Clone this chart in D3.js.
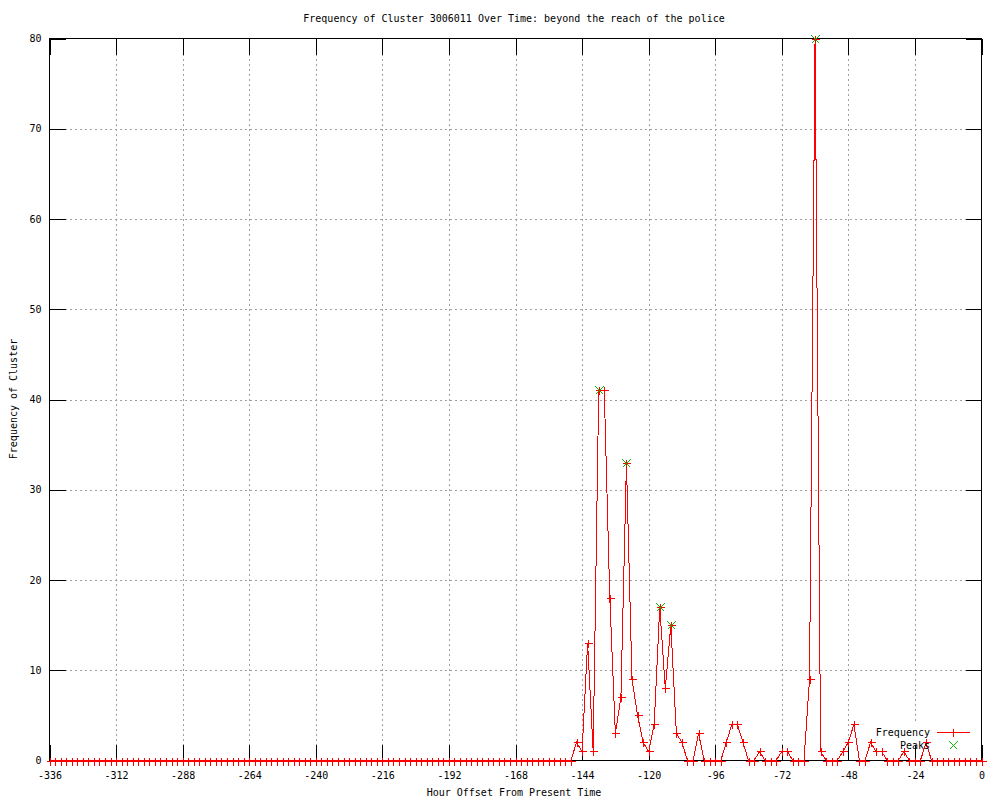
<!DOCTYPE html>
<html lang="en">
<head>
  <meta charset="UTF-8">
  <title>Frequency of Cluster 3006011 Over Time</title>
  <script src="https://d3js.org/d3.v7.min.js"></script>
  <style>
    body { margin: 0; background: #fff; }
    svg { display: block; background: #fff; }
    text { font-family: "DejaVu Sans Mono", "Liberation Mono", monospace; font-size: 10px; fill: #000; }
    .grid line { stroke: #a0a0a0; stroke-dasharray: 2,3; shape-rendering: crispEdges; }
    .axis line { stroke: #000; shape-rendering: crispEdges; }
    .axis path.domain { display: none; }
  </style>
</head>
<body>
<svg width="1000" height="800"></svg>

<script>
  // hourly offsets, one reading every 2 hours from -336 to 0
  const hours = d3.range(-336, 1, 2);
  const counts = [
    0, 0, 0, 0, 0, 0, 0, 0, 0, 0, 0, 0,      // -336 .. -314
    0, 0, 0, 0, 0, 0, 0, 0, 0, 0, 0, 0,      // -312 .. -290
    0, 0, 0, 0, 0, 0, 0, 0, 0, 0, 0, 0,      // -288 .. -266
    0, 0, 0, 0, 0, 0, 0, 0, 0, 0, 0, 0,      // -264 .. -242
    0, 0, 0, 0, 0, 0, 0, 0, 0, 0, 0, 0,      // -240 .. -218
    0, 0, 0, 0, 0, 0, 0, 0, 0, 0, 0, 0,      // -216 .. -194
    0, 0, 0, 0, 0, 0, 0, 0, 0, 0, 0, 0,      // -192 .. -170
    0, 0, 0, 0, 0, 0, 0, 0, 0, 0, 0, 2,      // -168 .. -146
    1, 13, 1, 41, 41, 18, 3, 7, 33, 9, 5, 2, // -144 .. -122
    1, 4, 17, 8, 15, 3, 2, 0, 0, 3, 0, 0,    // -120 .. -98
    0, 0, 2, 4, 4, 2, 0, 0, 1, 0, 0, 0,      // -96 .. -74
    1, 1, 0, 0, 0, 9, 80, 1, 0, 0, 0, 1,     // -72 .. -50
    2, 4, 0, 0, 2, 1, 1, 0, 0, 0, 1, 0,      // -48 .. -26
    0, 0, 2, 0, 0, 0, 0, 0, 0, 0, 0, 0,      // -24 .. -2
    0                                        // 0
  ];
  const peakHours = [-138, -128, -116, -112, -60];
  const peakValues = [41, 33, 17, 15, 80];
  const xTicks = d3.range(-336, 1, 24);
  const yTicks = d3.range(0, 81, 10);

  const svg = d3.select("svg");
  const plotLeft = 49.5, plotRight = 981.5, plotTop = 38.5, plotBottom = 760.5;
  const tick = 16;

  const x = d3.scaleLinear().domain([-336, 0]).range([plotLeft, plotRight]);
  const y = d3.scaleLinear().domain([0, 80]).range([plotBottom, plotTop]);

  const freq = hours.map((h, i) => ({h, v: counts[i]}));
  const peaks = peakHours.map((h, i) => ({h, v: peakValues[i]}));

  // grille
  const grid = svg.append("g").attr("class", "grid");
  grid.selectAll(".gx")
    .data(xTicks.filter(d => d > -336 && d < 0))
    .join("line")
      .attr("x1", d => Math.round(x(d)) + 0.5).attr("x2", d => Math.round(x(d)) + 0.5)
      .attr("y1", plotTop).attr("y2", plotBottom);
  grid.selectAll(".gy")
    .data(yTicks.filter(d => d > 0 && d < 80))
    .join("line")
      .attr("x1", plotLeft).attr("x2", plotRight)
      .attr("y1", d => Math.round(y(d)) + 0.5).attr("y2", d => Math.round(y(d)) + 0.5);

  // zone de la légende (fond blanc sur la grille)
  svg.append("rect")
    .attr("x", 866).attr("y", 724).attr("width", 114).attr("height", 20)
    .attr("fill", "#fff");

  // axes (ticks vers l'intérieur, avec miroir)
  svg.append("g").attr("class", "axis")
    .attr("transform", `translate(0,${plotBottom})`)
    .call(d3.axisBottom(x).tickValues(xTicks).tickSize(-tick).tickPadding(11).tickFormat(d => String(d)));
  svg.append("g").attr("class", "axis")
    .attr("transform", `translate(0,${plotTop})`)
    .call(d3.axisTop(x).tickValues(xTicks).tickSize(-tick).tickFormat(""));
  svg.append("g").attr("class", "axis")
    .attr("transform", `translate(${plotLeft},0)`)
    .call(d3.axisLeft(y).tickValues(yTicks).tickSize(-tick).tickPadding(8).tickFormat(d => String(d)));
  svg.append("g").attr("class", "axis")
    .attr("transform", `translate(${plotRight},0)`)
    .call(d3.axisRight(y).tickValues(yTicks).tickSize(-tick).tickFormat(""));

  svg.append("rect")
    .attr("x", plotLeft).attr("y", plotTop)
    .attr("width", plotRight - plotLeft).attr("height", plotBottom - plotTop)
    .attr("fill", "none").attr("stroke", "#000")
    .attr("shape-rendering", "crispEdges");

  // série Frequency
  const line = d3.line().x(d => x(d.h)).y(d => y(d.v));
  svg.append("path")
    .datum(freq)
    .attr("d", line)
    .attr("fill", "none")
    .attr("stroke", "#ff0000")
    .attr("stroke-width", 1)
    .attr("shape-rendering", "crispEdges");

  const plus = (cx, cy, r) => `M${cx - r},${cy}H${cx + r}M${cx},${cy - r}V${cy + r}`;
  const cross = (cx, cy, r) => `M${cx - r},${cy - r}L${cx + r},${cy + r}M${cx - r},${cy + r}L${cx + r},${cy - r}`;

  svg.append("g")
    .selectAll("path")
    .data(freq)
    .join("path")
      .attr("d", d => plus(Math.round(x(d.h)) + 0.5, Math.round(y(d.v)) + 0.5, 4))
      .attr("stroke", "#ff0000")
      .attr("fill", "none")
      .attr("shape-rendering", "crispEdges");

  // série Peaks
  svg.append("g")
    .selectAll("path")
    .data(peaks)
    .join("path")
      .attr("d", d => cross(Math.round(x(d.h)) + 0.5, Math.round(y(d.v)) + 0.5, 4))
      .attr("stroke", "#00c000")
      .attr("fill", "none")
      .attr("shape-rendering", "crispEdges");

  // légende
  const legend = svg.append("g");
  legend.append("text").attr("x", 930).attr("y", 736).attr("text-anchor", "end").text("Frequency");
  legend.append("line")
    .attr("x1", 937).attr("x2", 970).attr("y1", 732.5).attr("y2", 732.5)
    .attr("stroke", "#ff0000").attr("shape-rendering", "crispEdges");
  legend.append("path").attr("d", plus(953.5, 732.5, 4))
    .attr("stroke", "#ff0000").attr("shape-rendering", "crispEdges");
  legend.append("text").attr("x", 930).attr("y", 749).attr("text-anchor", "end").text("Peaks");
  legend.append("path").attr("d", cross(953.5, 745.5, 4))
    .attr("stroke", "#00c000").attr("shape-rendering", "crispEdges");

  // titres
  svg.append("text")
    .attr("x", 514).attr("y", 22)
    .attr("text-anchor", "middle")
    .text("Frequency of Cluster 3006011 Over Time: beyond the reach of the police");

  svg.append("text")
    .attr("x", 514).attr("y", 796)
    .attr("text-anchor", "middle")
    .text("Hour Offset From Present Time");

  svg.append("text")
    .attr("transform", "translate(17,399) rotate(-90)")
    .attr("text-anchor", "middle")
    .text("Frequency of Cluster");
</script>

</body>
</html>
